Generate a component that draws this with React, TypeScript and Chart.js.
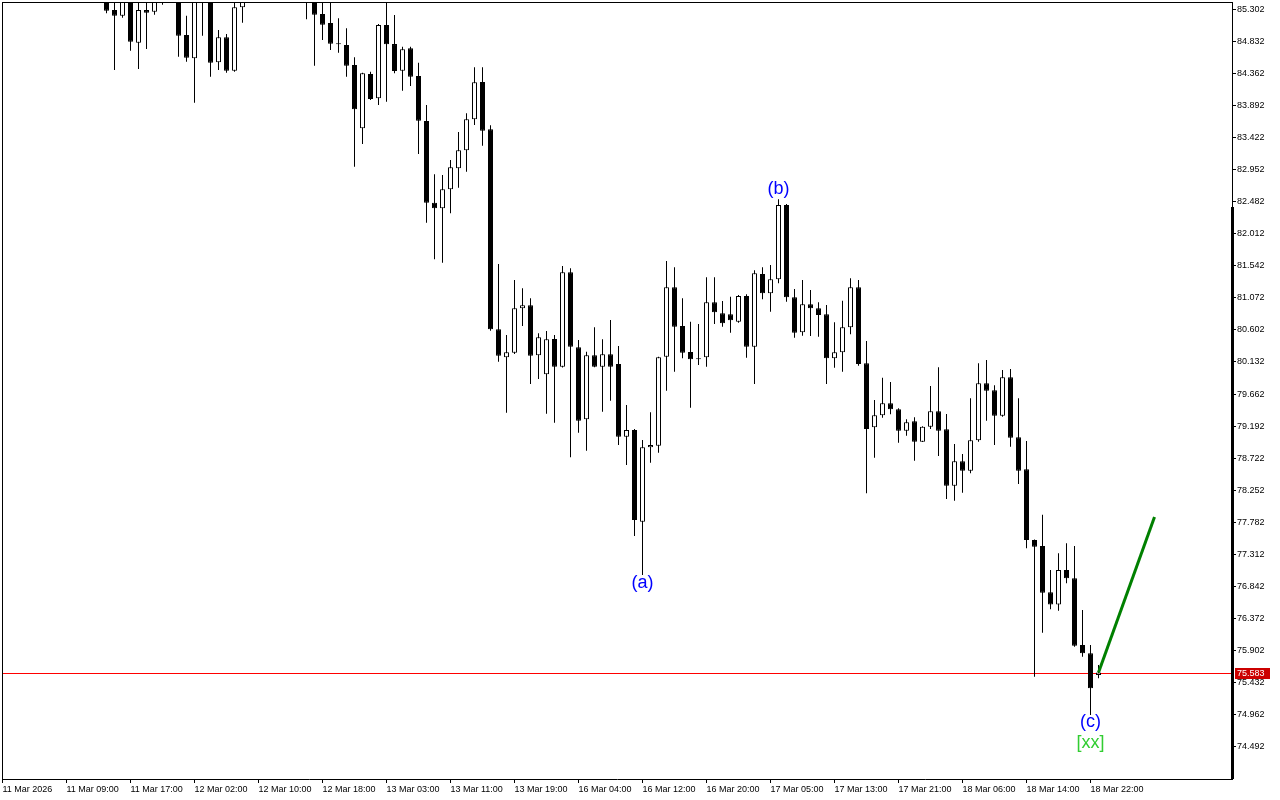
import React, { useEffect, useRef } from 'react';
import { Chart, registerables } from 'chart.js';

Chart.register(...registerables);

// Time axis labels (one every 8 hourly bars)
const timeLabels = [
  '11 Mar 2026', '11 Mar 09:00', '11 Mar 17:00', '12 Mar 02:00', '12 Mar 10:00', '12 Mar 18:00',
  '13 Mar 03:00', '13 Mar 11:00', '13 Mar 19:00', '16 Mar 04:00', '16 Mar 12:00', '16 Mar 20:00',
  '17 Mar 05:00', '17 Mar 13:00', '17 Mar 21:00', '18 Mar 06:00', '18 Mar 14:00', '18 Mar 22:00',
];
const BARS_PER_LABEL = 8;

// Price axis labels
const priceTickLabels = [
  '85.302', '84.832', '84.362', '83.892', '83.422', '82.952', '82.482', '82.012',
  '81.542', '81.072', '80.602', '80.132', '79.662', '79.192', '78.722', '78.252',
  '77.782', '77.312', '76.842', '76.372', '75.902', '75.432', '74.962', '74.492',
];

// H1 candles (index = bar number; null = outside the visible window)
const opens: (number | null)[] = [
  null, null, null, null, null, null, null, null, null, null,
  null, null, null, 85.55, 85.287, 85.204, 85.55, 84.808, 85.287, 85.262,
  85.60, null, 85.50, 84.921, 84.580, 85.60, 85.50, 84.521, 84.887, 84.398,
  85.327, null, null, null, null, null, null, null, 85.55, 85.50,
  85.229, 85.097, 84.794, 84.775, 84.482, 83.555, 84.350, 83.994, 85.068, 84.789,
  84.398, 84.726, 84.321, 83.661, 82.465, 82.383, 82.661, 82.969, 83.232, 83.686,
  84.233, 83.540, 80.610, 80.200, 80.268, 80.918, 80.962, 80.229, 79.951, 80.468,
  80.063, 81.445, 80.346, 79.292, 80.229, 80.063, 80.244, 80.102, 79.037, 79.135,
  77.792, 78.882, 78.906, 80.209, 81.225, 80.659, 80.278, 80.180, 80.200, 81.006,
  80.845, 80.830, 80.722, 81.098, 80.356, 81.420, 81.137, 81.342, 82.431, 81.079,
  80.566, 80.977, 80.918, 80.830, 80.185, 80.273, 80.639, 81.225, 80.112, 79.175,
  79.350, 79.526, 79.438, 79.125, 79.263, 78.964, 79.184, 79.409, 79.145, 78.319,
  78.677, 78.540, 78.984, 79.819, 79.717, 79.345, 79.907, 79.028, 78.560, 77.524,
  77.436, 76.757, 76.581, 77.085, 76.963, 75.986, 75.864, 75.548,
];
const highs: (number | null)[] = [
  null, null, null, null, null, null, null, null, null, null,
  null, null, null, 85.60, 85.50, 85.60, 85.65, 85.55, 85.50, 85.60,
  85.80, null, 85.60, 85.204, 85.70, 85.75, 85.60, 84.994, 84.936, 85.39,
  85.55, null, null, null, null, null, null, null, 85.70, 85.60,
  85.45, 85.45, 85.166, 85.019, 84.594, 84.369, 84.384, 85.082, 85.40, 85.214,
  84.750, 84.750, 84.516, 83.896, 82.881, 82.871, 83.090, 83.500, 83.774, 84.448,
  84.448, 83.599, 81.567, 80.527, 81.333, 81.211, 81.065, 80.552, 80.585, 80.527,
  81.538, 81.504, 80.454, 80.282, 80.640, 80.464, 80.747, 80.366, 79.502, 79.150,
  78.989, 79.394, 80.209, 81.611, 81.518, 81.065, 80.722, 80.688, 81.372, 81.372,
  81.025, 81.088, 81.113, 81.123, 81.474, 81.518, 81.552, 82.515, 82.446, 81.201,
  81.333, 81.186, 81.006, 80.966, 80.713, 81.030, 81.357, 81.333, 80.439, 79.575,
  79.902, 79.838, 79.453, 79.292, 79.321, 79.190, 79.780, 80.054, 79.370, 78.930,
  78.784, 79.600, 80.112, 80.161, 79.790, 80.014, 80.029, 79.600, 78.974, 77.530,
  77.895, 77.085, 77.329, 77.475, 77.436, 76.498, 75.986, 75.693,
];
const lows: (number | null)[] = [
  null, null, null, null, null, null, null, null, null, null,
  null, null, null, 85.24, 84.409, 85.175, 84.691, 84.423, 84.716, 85.219,
  85.365, null, 84.603, 84.53, 83.93, 84.911, 84.31, 84.409, 84.369, 84.384,
  85.101, null, null, null, null, null, null, null, 85.151, 84.472,
  84.848, 84.702, 84.662, 84.31, 82.992, 83.325, 83.97, 83.896, 83.944, 84.360,
  84.105, 84.174, 83.178, 82.172, 81.636, 81.586, 82.310, 82.684, 82.919, 83.603,
  83.300, 80.59, 80.136, 79.389, 80.249, 80.659, 79.809, 79.882, 79.374, 79.242,
  80.05, 78.736, 79.096, 78.832, 80.054, 79.403, 79.565, 78.916, 78.623, 77.583,
  77.011, 78.657, 78.803, 79.711, 79.990, 80.185, 79.462, 80.088, 80.063, 80.688,
  80.649, 80.561, 80.708, 80.195, 79.809, 81.050, 80.868, 81.284, 81.015, 80.488,
  80.517, 80.512, 80.502, 79.809, 80.048, 79.990, 80.537, 80.078, 78.208, 78.730,
  79.316, 79.365, 78.950, 79.052, 78.686, 78.960, 79.150, 78.755, 78.125, 78.100,
  78.217, 78.501, 78.964, 79.272, 78.916, 79.330, 78.891, 78.345, 77.403, 75.522,
  76.166, 76.508, 76.489, 76.889, 75.961, 75.815, 74.961, 75.498,
];
const closes: (number | null)[] = [
  null, null, null, null, null, null, null, null, null, null,
  null, null, null, 85.277, 85.204, 85.50, 84.823, 85.287, 85.248, 85.48,
  85.50, null, 84.911, 84.589, 85.55, 85.45, 84.516, 84.887, 84.398, 85.327,
  85.45, null, null, null, null, null, null, null, 85.45, 85.219,
  85.072, 84.794, 84.785, 84.472, 83.833, 84.360, 83.984, 85.068, 84.785, 84.394,
  84.712, 84.310, 83.666, 82.465, 82.383, 82.661, 82.983, 83.232, 83.686, 84.228,
  83.520, 80.610, 80.224, 80.273, 80.918, 80.962, 80.224, 80.493, 80.464, 80.063,
  81.445, 80.356, 79.272, 80.229, 80.063, 80.244, 80.063, 79.037, 79.135, 77.817,
  78.882, 78.916, 80.200, 81.225, 80.649, 80.268, 80.170, 80.170, 81.006, 80.859,
  80.698, 80.742, 81.098, 80.356, 81.430, 81.137, 81.342, 82.431, 81.079, 80.561,
  80.977, 80.918, 80.820, 80.185, 80.273, 80.639, 81.225, 80.102, 79.150, 79.350,
  79.526, 79.438, 79.125, 79.248, 78.964, 79.184, 79.409, 79.125, 78.319, 78.677,
  78.540, 78.984, 79.819, 79.711, 79.345, 79.907, 79.023, 78.540, 77.524, 77.426,
  76.752, 76.581, 77.085, 76.963, 75.976, 75.864, 75.352, 75.583,
];

const bidPrice = 75.583;
const bidLabel = '75.583';

// Green projection line
const trendBars = [137, 144];
const trendPrices = [75.583, 77.86];

// Wave labels
const waveLabels = ['(a)', '(b)', '(c)', '[xx]'];
const waveBars = [80, 97, 136, 136];
const wavePrices = [76.893, 82.658, 74.857, 74.549];
const waveColors = ['#0000ff', '#0000ff', '#0000ff', '#32cd32'];

// Thick marker on the price scale
const scaleMarkTop = 82.402;

const X_MIN = -0.0625;
const X_MAX = 153.6875;
const Y_MIN = 74.023;
const Y_MAX = 85.405;

const AXIS_FONT = { family: 'Liberation Sans', size: 9 };

const overlay = {
  id: 'mtOverlay',
  beforeDatasetsDraw(chart: any) {
    const { ctx, chartArea: a, scales } = chart;
    const py = Math.round(scales.y.getPixelForValue(bidPrice));
    ctx.save();
    ctx.fillStyle = '#ff0000';
    ctx.fillRect(a.left, py, a.right - a.left, 1);
    ctx.restore();
  },
  afterDatasetsDraw(chart: any) {
    const { ctx, scales } = chart;
    ctx.save();
    ctx.font = '18px "Liberation Sans"';
    ctx.textAlign = 'center';
    ctx.textBaseline = 'middle';
    waveLabels.forEach((t, k) => {
      ctx.fillStyle = waveColors[k];
      ctx.fillText(t, scales.x.getPixelForValue(waveBars[k]), scales.y.getPixelForValue(wavePrices[k]));
    });
    ctx.restore();
  },
  afterDraw(chart: any) {
    const { ctx, chartArea: a, scales } = chart;
    ctx.save();
    ctx.fillStyle = '#000';
    ctx.fillRect(a.left, a.top, 1, a.bottom - a.top);
    ctx.fillRect(a.left, a.top, a.right - a.left, 1);
    const my = Math.round(scales.y.getPixelForValue(scaleMarkTop));
    ctx.fillRect(a.right - 1, my, 3, a.bottom - my);
    const py = Math.round(scales.y.getPixelForValue(bidPrice));
    ctx.fillStyle = '#cc0000';
    ctx.fillRect(a.right + 3, py - 5, 35, 11);
    ctx.fillStyle = '#ffffff';
    ctx.font = '9px "Liberation Sans"';
    ctx.textAlign = 'left';
    ctx.textBaseline = 'middle';
    ctx.fillText(bidLabel, a.right + 5, py + 0.5);
    ctx.restore();
  },
};

export default function App() {
  const ref = useRef<HTMLCanvasElement>(null);

  useEffect(() => {
    const canvas = ref.current;
    if (!canvas) return;
    const bars = opens.map((_, i) => i).filter((i) => opens[i] !== null);
    const o = (i: number) => opens[i] as number;
    const c = (i: number) => closes[i] as number;

    const chart = new Chart(canvas, {
      type: 'bar',
      data: {
        datasets: [
          {
            type: 'line',
            label: 'trend',
            data: trendBars.map((b, k) => ({ x: b, y: trendPrices[k] })),
            borderColor: '#008000',
            borderWidth: 3,
            pointRadius: 0,
            fill: false,
            clip: 0,
          } as any,
          {
            type: 'bar',
            label: 'body',
            data: bars.map((i) => ({ x: i, y: [Math.min(o(i), c(i)), Math.max(o(i), c(i))] })),
            backgroundColor: bars.map((i) => (c(i) > o(i) ? '#ffffff' : '#000000')),
            borderColor: '#000000',
            borderWidth: 1,
            borderSkipped: false,
            barThickness: 5,
            grouped: false,
            minBarLength: 1,
            inflateAmount: 0,
            clip: 0,
          } as any,
          {
            type: 'bar',
            label: 'wick',
            data: bars.map((i) => ({ x: i, y: [lows[i] as number, highs[i] as number] })),
            backgroundColor: '#000000',
            borderWidth: 0,
            barThickness: 1,
            grouped: false,
            inflateAmount: 0,
            clip: 0,
          } as any,
        ],
      },
      options: {
        responsive: false,
        devicePixelRatio: 1,
        animation: false,
        events: [],
        layout: { padding: { left: 2, top: 2, right: 0, bottom: 0 } },
        plugins: { legend: { display: false }, tooltip: { enabled: false } },
        scales: {
          x: {
            type: 'linear',
            min: X_MIN,
            max: X_MAX,
            offset: false,
            grid: { display: true, drawOnChartArea: false, drawTicks: true, tickLength: 4, color: '#000', offset: false },
            border: { display: true, color: '#000', width: 1 },
            ticks: {
              autoSkip: false,
              maxRotation: 0,
              minRotation: 0,
              align: 'start',
              padding: 1,
              color: '#000',
              font: AXIS_FONT,
              callback: (_v: any, k: number) => timeLabels[k],
            },
            afterBuildTicks: (s: any) => {
              s.ticks = timeLabels.map((_, k) => ({ value: k * BARS_PER_LABEL }));
            },
            afterFit: (s: any) => {
              s.height = 21;
              s.paddingLeft = 0;
              s.paddingRight = 0;
            },
          },
          y: {
            type: 'linear',
            position: 'right',
            min: Y_MIN,
            max: Y_MAX,
            beginAtZero: false,
            grid: { display: true, drawOnChartArea: false, drawTicks: true, tickLength: 4, color: '#000' },
            border: { display: true, color: '#000', width: 1 },
            ticks: {
              padding: 1,
              color: '#000',
              font: AXIS_FONT,
              callback: (_v: any, k: number) => priceTickLabels[k],
            },
            afterBuildTicks: (s: any) => {
              s.ticks = priceTickLabels.map((t) => ({ value: parseFloat(t) }));
            },
            afterFit: (s: any) => {
              s.width = 48;
              s.paddingTop = 0;
              s.paddingBottom = 0;
            },
          },
        },
      } as any,
      plugins: [overlay],
    });
    return () => chart.destroy();
  }, []);

  return (
    <div style={{ position: 'fixed', left: 0, top: 0, width: 1280, height: 800, background: '#ffffff' }}>
      <canvas ref={ref} width={1280} height={800} style={{ display: 'block' }} />
    </div>
  );
}
